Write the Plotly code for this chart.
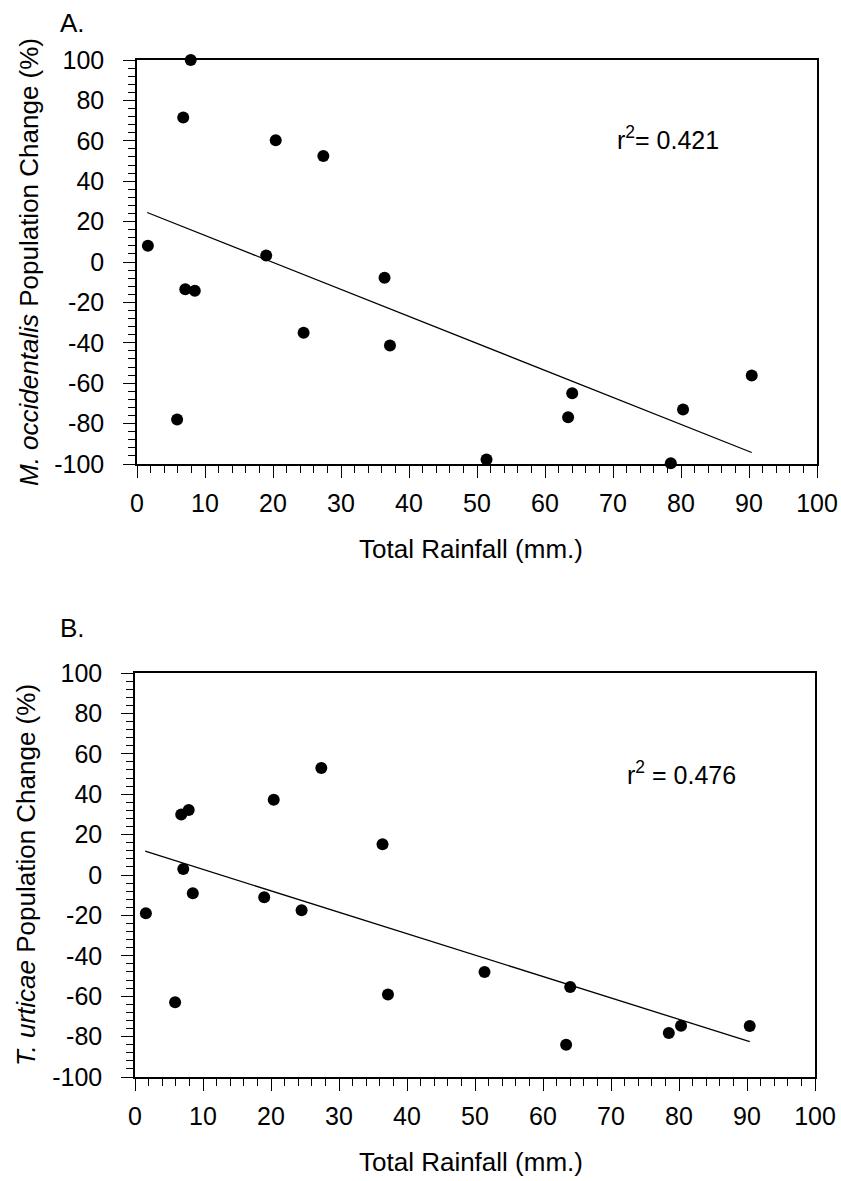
import plotly.graph_objects as go

# ---- data ----
rainfall = [1.6, 5.9, 6.8, 7.1, 7.9, 8.5, 19.0, 20.4, 24.5, 27.4, 36.4, 37.2,
            51.4, 63.4, 64.0, 78.5, 80.3, 90.4]
m_occidentalis = [8.0, -78.0, 71.5, -13.5, 100.0, -14.2, 3.2, 60.3, -35.0, 52.5,
                  -7.8, -41.3, -97.8, -76.8, -65.0, -99.6, -73.0, -56.2]
t_urticae = [-18.9, -63.0, 30.0, 3.0, 32.2, -9.0, -11.0, 37.2, -17.5, 53.0,
             15.2, -59.2, -48.0, -84.0, -55.4, -78.2, -74.6, -74.8]
fit_x = [1.5, 90.4]
fit_a = [24.5, -94.3]
fit_b = [11.8, -82.5]
r2_a = "0.421"
r2_b = "0.476"
x_tick_vals = [0, 10, 20, 30, 40, 50, 60, 70, 80, 90, 100]
x_tick_text = ["0", "10", "20", "30", "40", "50", "60", "70", "80", "90", "100"]
y_tick_vals = [-100, -80, -60, -40, -20, 0, 20, 40, 60, 80, 100]
y_tick_text = ["-100", "-80", "-60", "-40", "-20", "0", "20", "40", "60", "80", "100"]

W, H = 841, 1181
FONT = "Liberation Sans"


def fx(p):
    return p / W


def fy(p):
    return 1 - p / H


fig = go.Figure()
for vals, fit, xa, ya in [(m_occidentalis, fit_a, "x", "y"), (t_urticae, fit_b, "x2", "y2")]:
    fig.add_trace(go.Scatter(x=fit_x, y=fit, mode="lines",
                             line=dict(color="black", width=1.3),
                             xaxis=xa, yaxis=ya, showlegend=False, hoverinfo="skip"))
    fig.add_trace(go.Scatter(x=rainfall, y=vals, mode="markers",
                             marker=dict(color="black", size=12),
                             cliponaxis=False, xaxis=xa, yaxis=ya, showlegend=False))

common = dict(showline=True, linecolor="black", linewidth=1.5, mirror=True,
              showgrid=False, zeroline=False, ticks="outside", tickcolor="black",
              tickwidth=1.3, ticklen=12, automargin=False,
              tickfont=dict(family=FONT, size=25, color="black"))

xcommon = dict(common, range=[0, 100], tickmode="array", tickvals=x_tick_vals,
               ticktext=x_tick_text, ticklabelstandoff=4,
               minor=dict(tickmode="linear", tick0=0, dtick=2, ticks="outside",
                          ticklen=7, tickcolor="black", tickwidth=1.2))
ycommon = dict(common, range=[-100, 100], tickmode="array", tickvals=y_tick_vals,
               ticktext=y_tick_text, ticklabelstandoff=14,
               minor=dict(tickmode="linear", tick0=-100, dtick=4, ticks="outside",
                          ticklen=7, tickcolor="black", tickwidth=1.2))

fig.update_layout(
    width=W, height=H, margin=dict(l=0, r=0, t=0, b=0, pad=0, autoexpand=False),
    paper_bgcolor="white", plot_bgcolor="white",
    font=dict(family=FONT, color="black"),
    xaxis=dict(xcommon, domain=[fx(137), fx(817)], anchor="y"),
    yaxis=dict(ycommon, domain=[fy(464), fy(60)], anchor="x"),
    xaxis2=dict(xcommon, domain=[fx(135), fx(815)], anchor="y2"),
    yaxis2=dict(ycommon, domain=[fy(1077), fy(673)], anchor="x2"),
)

ann = []
ann.append(dict(text="A.", x=fx(58), y=fy(23), xanchor="left", yanchor="middle",
                font=dict(size=26)))
ann.append(dict(text="B.", x=fx(58), y=fy(628), xanchor="left", yanchor="middle",
                font=dict(size=26)))
ann.append(dict(text="r<sup>2</sup>= " + r2_a, x=fx(615), y=fy(138), xanchor="left",
                yanchor="middle", font=dict(size=25)))
ann.append(dict(text="r<sup>2</sup> = " + r2_b, x=fx(625), y=fy(773), xanchor="left",
                yanchor="middle", font=dict(size=25)))
ann.append(dict(text="Total Rainfall (mm.)", x=fx(471), y=fy(549), xanchor="center",
                yanchor="middle", font=dict(size=26)))
ann.append(dict(text="Total Rainfall (mm.)", x=fx(471), y=fy(1162), xanchor="center",
                yanchor="middle", font=dict(size=26)))
ann.append(dict(text="<i>M. occidentalis</i> Population Change (%)", x=fx(29), y=fy(262),
                xanchor="center", yanchor="middle", textangle=-90, font=dict(size=26)))
ann.append(dict(text="<i>T. urticae</i> Population Change (%)", x=fx(26), y=fy(875),
                xanchor="center", yanchor="middle", textangle=-90, font=dict(size=26)))
for a in ann:
    a.update(xref="paper", yref="paper", showarrow=False)
    a["font"].update(family=FONT, color="black")
fig.update_layout(annotations=ann)

fig.write_html("out.html", config={"displayModeBar": False},
               post_script="document.body.style.margin='0';document.body.style.overflow='hidden';")
